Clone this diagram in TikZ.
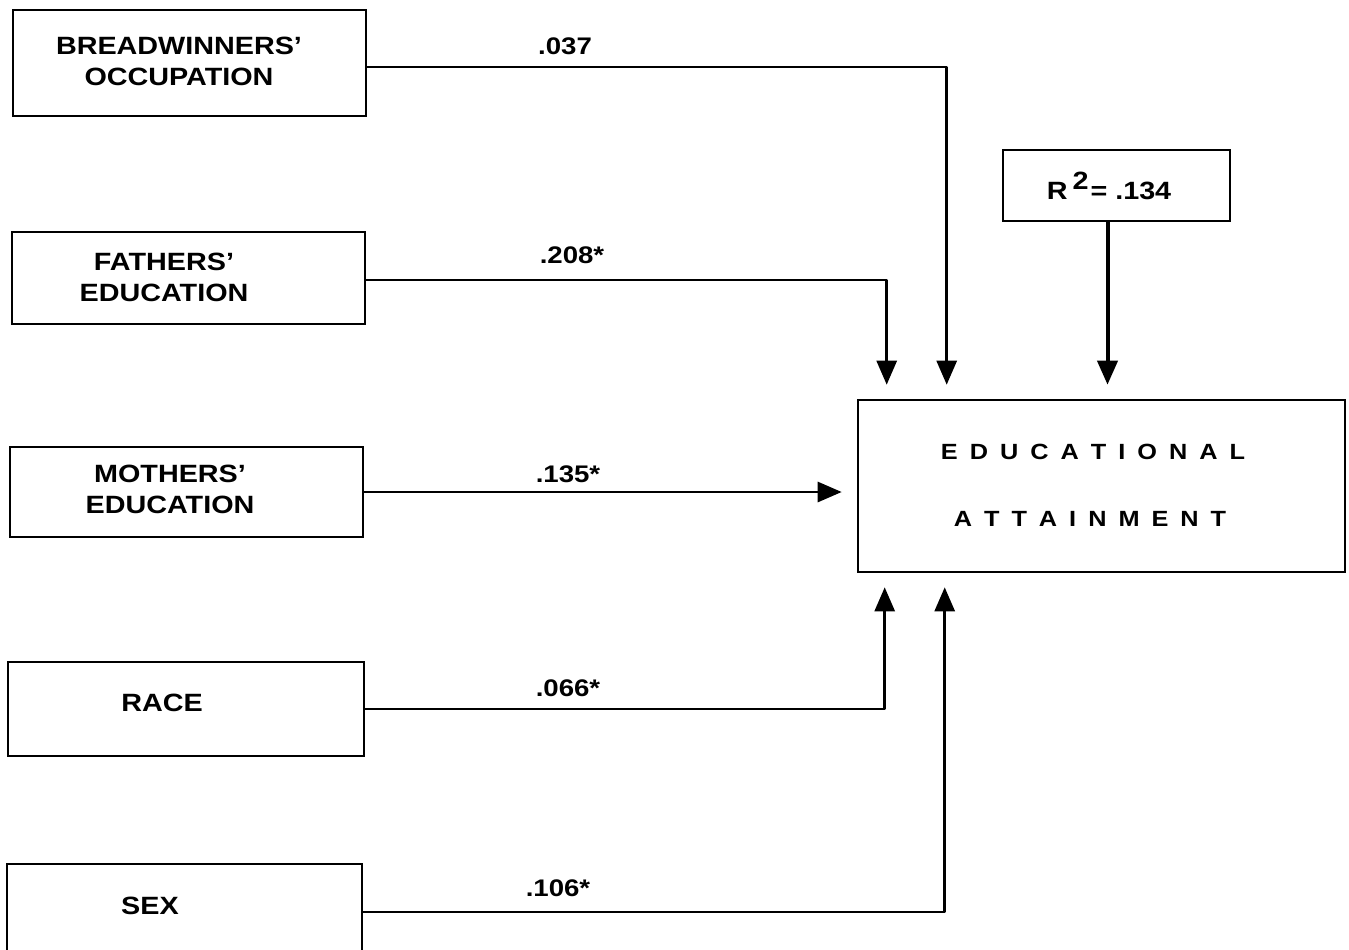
\documentclass[tikz,border=0pt]{standalone}
\usepackage{fontspec}
\setmainfont{Liberation Sans}[FakeStretch=1.15]
\usetikzlibrary{arrows.meta}
\newcommand{\spc}{\kern12pt}
\begin{document}
\begin{tikzpicture}[x=1pt,y=-1pt,
  boxnode/.style={draw, line width=2.6pt, inner sep=0pt},
  lab/.style={font=\fontsize{25}{31}\selectfont\bfseries, align=center, inner sep=0pt},
  coef/.style={font=\fontsize{24}{28}\selectfont\bfseries, inner sep=0pt},
  conn/.style={line width=2.8pt, -{Triangle[width=20pt,length=24pt]}, shorten >=14pt, line join=round}]
\useasboundingbox (0,0) rectangle (1349,950);
\fill[white] (0,0) rectangle (1349,950);
\clip (0,0) rectangle (1349,950);
% boxes
\node[boxnode, minimum width=353pt, minimum height=106pt] (b1) at (189.5,63) {};
\node[boxnode, minimum width=353pt, minimum height=92pt] (b2) at (188.5,278) {};
\node[boxnode, minimum width=353pt, minimum height=90pt] (b3) at (186.5,492) {};
\node[boxnode, minimum width=356pt, minimum height=94pt] (b4) at (186,709) {};
\node[boxnode, minimum width=355pt, minimum height=96pt] (b5) at (184.5,912) {};
\node[boxnode, minimum width=487pt, minimum height=172pt] (tgt) at (1101.5,486) {};
\node[boxnode, minimum width=227pt, minimum height=71pt] (r2) at (1116.5,185.5) {};
% texts
\node[lab] (t1) at (179,61) {BREADWINNERS’\\OCCUPATION};
\node[lab] (t2) at (164,277) {FATHERS’\\EDUCATION};
\node[lab] (t3) at (170,489) {MOTHERS’\\EDUCATION};
\node[lab] (t4) at (162,703) {RACE};
\node[lab] (t5) at (150,906) {SEX};
\node[font=\fontsize{22}{26}\selectfont\bfseries, inner sep=0pt] (tt1) at (1093,452) {E\spc D\spc U\spc C\spc A\spc T\spc I\spc O\spc N\spc A\spc L};
\node[font=\fontsize{22}{26}\selectfont\bfseries, inner sep=0pt] (tt2) at (1090,519) {A\spc T\spc T\spc A\spc I\spc N\spc M\spc E\spc N\spc T};
\node[font=\fontsize{25}{29}\selectfont\bfseries, inner sep=0pt] (tr) at (1109,186) {R\kern5pt\raisebox{10pt}{2}\kern2pt= .134};
% coefficients
\node[coef] (c1) at (565,46) {.037};
\node[coef] (c2) at (572,255) {.208*};
\node[coef] (c3) at (568,474) {.135*};
\node[coef] (c4) at (568,688) {.066*};
\node[coef] (c5) at (558,888) {.106*};
% connectors
\draw[conn] ([yshift=-4pt]b1.east) -| ([xshift=90pt]tgt.north west);
\draw[conn] ([yshift=-2pt]b2.east) -| ([xshift=30pt]tgt.north west);
\draw[conn, shorten >=15pt] (b3.east) -- (tgt.west |- b3.east);
\draw[conn] (b4.east) -| ([xshift=28pt]tgt.south west);
\draw[conn] (b5.east) -| ([xshift=88pt]tgt.south west);
\draw[conn, line width=4pt] ([xshift=-9pt]r2.south) -- ([xshift=-9pt]r2.south |- tgt.north);
\end{tikzpicture}
\end{document}
